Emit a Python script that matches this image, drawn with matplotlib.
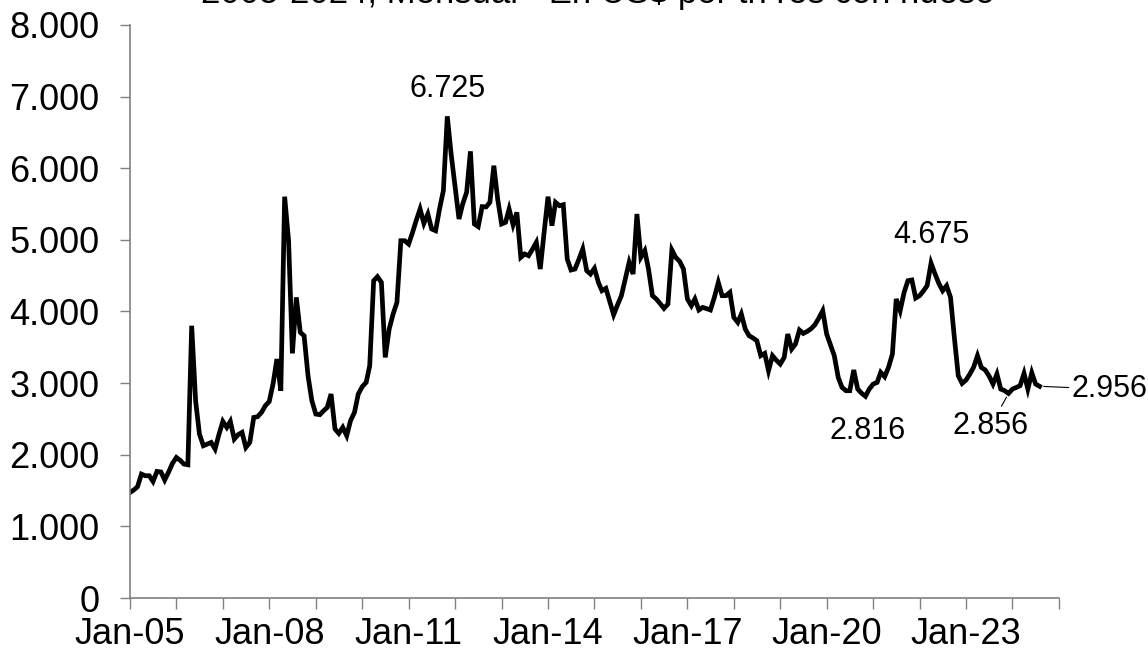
import matplotlib
matplotlib.use("Agg")
import matplotlib.pyplot as plt
import matplotlib.dates as mdates
import matplotlib.ticker as mticker
import pandas as pd

plt.rcParams['font.family'] = ['Liberation Sans', 'DejaVu Sans']

title = "2005-2024, Mensual - En US$ por tn res con hueso"

start_month = "2005-01-01"
values = [
    # 2005
    1473, 1510, 1553, 1730, 1707, 1707, 1627, 1767, 1760, 1647, 1760, 1880,
    # 2006
    1962, 1920, 1870, 1860, 3801, 2750, 2289, 2126, 2150, 2172, 2080, 2280,
    # 2007
    2466, 2382, 2466, 2219, 2280, 2312, 2102, 2172, 2521, 2531, 2591, 2684,
    # 2008
    2744, 3000, 3336, 2894, 5603, 4988, 3415, 4197, 3708, 3662, 3100, 2754,
    # 2009
    2568, 2559, 2610, 2661, 2848, 2359, 2298, 2382, 2266, 2475, 2591, 2848,
    # 2010
    2950, 3010, 3243, 4430, 4486, 4406, 3359, 3755, 3965, 4127, 4988, 4988,
    # 2011
    4942, 5105, 5268, 5431, 5231, 5361, 5152, 5128, 5431, 5687, 6725, 6200,
    # 2012
    5750, 5292, 5501, 5664, 6236, 5222, 5185, 5464, 5460, 5524, 6036, 5571,
    # 2013
    5222, 5245, 5431, 5212, 5384, 4756, 4803, 4779, 4870, 4965, 4593, 5100,
    # 2014
    5603, 5198, 5524, 5477, 5491, 4733, 4579, 4593, 4730, 4872, 4570, 4523,
    # 2015
    4602, 4406, 4290, 4323, 4140, 3955, 4090, 4221, 4454, 4686, 4523, 5361,
    # 2016
    4756, 4849, 4593, 4221, 4175, 4110, 4043, 4104, 4858, 4756, 4700, 4593,
    # 2017
    4175, 4081, 4175, 4021, 4057, 4040, 4021, 4197, 4406, 4221, 4221, 4267,
    # 2018
    3918, 3848, 3965, 3755, 3662, 3630, 3592, 3383, 3415, 3173, 3383, 3320,
    # 2019
    3266, 3359, 3685, 3476, 3546, 3741, 3694, 3722, 3760, 3815, 3910, 4011,
    # 2020
    3685, 3530, 3383, 3080, 2940, 2894, 2894, 3183, 2917, 2860, 2816, 2917,
    # 2021
    2987, 3010, 3150, 3089, 3219, 3406, 4175, 4011, 4267, 4430, 4440, 4188,
    # 2022
    4221, 4290, 4360, 4675, 4530, 4393, 4290, 4360, 4197, 3638, 3103, 2996,
    # 2023
    3043, 3130, 3219, 3383, 3219, 3183, 3100, 2987, 3127, 2917, 2894, 2856,
    # 2024
    2917, 2940, 2964, 3136, 2917, 3145, 2987, 2956,
]
dates = pd.date_range(start_month, periods=len(values), freq="MS")

# annotated points: (date, label)
ann_max1 = ("2011-11-01", "6.725")
ann_max2 = ("2022-04-01", "4.675")
ann_min1 = ("2020-11-01", "2.816")
ann_min2 = ("2023-12-01", "2.856")
ann_last = ("2024-08-01", "2.956")

fig = plt.figure(figsize=(11.48, 6.53), dpi=100)
ax = fig.add_axes([130/1148, 1-598/653, (1059-130)/1148, (598-25)/653])

ax.plot(dates, values, color="black", lw=3.4, solid_joinstyle="miter")

ax.set_xlim(pd.Timestamp("2005-01-01"), pd.Timestamp("2025-01-01"))
ax.set_ylim(0, 8000)

ax.xaxis.set_major_locator(mdates.YearLocator(1, month=1, day=1))
def xfmt(x, pos):
    d = mdates.num2date(x)
    if (d.year - 2005) % 3 == 0:
        return d.strftime("%b-%y")
    return ""
ax.xaxis.set_major_formatter(mticker.FuncFormatter(xfmt))
ax.yaxis.set_major_locator(mticker.MultipleLocator(1000))
ax.yaxis.set_major_formatter(mticker.FuncFormatter(
    lambda v, p: "{:,.0f}".format(v).replace(",", ".")))

for s in ["top", "right"]:
    ax.spines[s].set_visible(False)
for s in ["left", "bottom"]:
    ax.spines[s].set_color("#808080")
    ax.spines[s].set_linewidth(1.2)

ax.tick_params(axis="x", direction="out", length=8, width=1, color="#808080",
               labelsize=26, pad=6)
ax.tick_params(axis="y", direction="out", length=7, width=1, color="#808080",
               labelsize=26, pad=15)

fs = 22
def val(d):
    return values[list(dates).index(pd.Timestamp(d))]

d, t = ann_max1
ax.annotate(t, (pd.Timestamp(d), val(d)), xytext=(0, 12), textcoords="offset pixels",
            ha="center", va="bottom", fontsize=fs)
d, t = ann_max2
ax.annotate(t, (pd.Timestamp(d), val(d)), xytext=(0, 13), textcoords="offset pixels",
            ha="center", va="bottom", fontsize=fs)
d, t = ann_min1
ax.annotate(t, (pd.Timestamp(d), val(d)), xytext=(2, -20), textcoords="offset pixels",
            ha="center", va="top", fontsize=fs)
d, t = ann_min2
ax.annotate(t, (pd.Timestamp(d), val(d)), xytext=(-18, -18), textcoords="offset pixels",
            ha="center", va="top", fontsize=fs,
            arrowprops=dict(arrowstyle="-", color="black", lw=0.8,
                            shrinkA=2, shrinkB=3))
d, t = ann_last
ax.annotate(t, (pd.Timestamp(d), val(d)), xytext=(32, -3), textcoords="offset pixels",
            ha="left", va="center", fontsize=fs,
            arrowprops=dict(arrowstyle="-", color="black", lw=0.8,
                            shrinkA=0, shrinkB=3))

fig.text(598/1148, 1-3/653, title, ha="center", va="baseline", fontsize=25)

fig.savefig("out.png", dpi=100)
